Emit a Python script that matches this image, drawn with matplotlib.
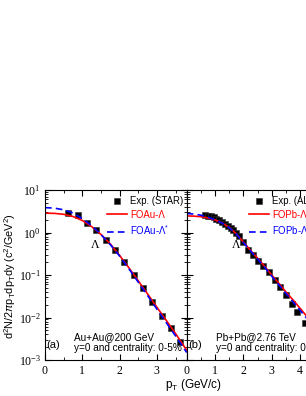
import numpy as np
import matplotlib.pyplot as plt
from matplotlib.ticker import MultipleLocator, LogLocator, NullFormatter

plt.rcParams['font.family'] = 'Liberation Sans'
plt.rcParams['mathtext.fontset'] = 'custom'
plt.rcParams['mathtext.rm'] = 'Liberation Sans'
plt.rcParams['mathtext.it'] = 'Liberation Sans:italic'

# panel (a): Au+Au 200 GeV, STAR Lambda
star_pt = [0.625, 0.875, 1.125, 1.375, 1.625, 1.875, 2.125, 2.375, 2.625, 2.875, 3.125, 3.375, 3.625]
star_y = [2.83, 2.58, 1.64, 1.15, 0.667, 0.39, 0.206, 0.10, 0.049, 0.0236, 0.011, 0.0057, 0.0027]

fo_au_pt = [0, 0.25, 0.5, 0.75, 1.0, 1.25, 1.5, 1.75, 2.0, 2.25, 2.5, 2.75, 3.0, 3.25, 3.5, 3.8]
fo_au_lam = [2.85, 2.82, 2.68, 2.38, 1.92, 1.38, 0.90, 0.54, 0.29, 0.148, 0.073, 0.036, 0.0175, 0.0086, 0.0042, 0.0017]
fo_au_star = [3.85, 3.75, 3.42, 2.88, 2.12, 1.45, 0.90, 0.52, 0.28, 0.14, 0.068, 0.033, 0.0158, 0.0076, 0.0037, 0.0015]

# panel (b): Pb+Pb 2.76 TeV, ALICE Lambda
alice_pt = [0.65, 0.75, 0.85, 0.95, 1.05, 1.15, 1.25, 1.35, 1.45, 1.55, 1.65, 1.75, 1.85, 2.0,
            2.15, 2.33, 2.5, 2.7, 2.9, 3.1, 3.3, 3.5, 3.7, 3.9, 4.18]
alice_y = [2.55, 2.48, 2.38, 2.26, 2.12, 1.96, 1.80, 1.62, 1.45, 1.28, 1.12, 0.97, 0.82, 0.60,
           0.38, 0.29, 0.215, 0.163, 0.117, 0.078, 0.053, 0.033, 0.0205, 0.0135, 0.0075]

fo_pb_pt = [0, 0.25, 0.5, 0.75, 1.0, 1.25, 1.5, 1.75, 2.0, 2.25, 2.5, 2.75, 3.0, 3.25, 3.5, 3.75, 4.0, 4.25, 4.5, 5.0]
fo_pb_lam = [2.45, 2.43, 2.35, 2.2, 1.98, 1.68, 1.32, 0.93, 0.60, 0.38, 0.25, 0.16, 0.10, 0.064, 0.040, 0.026,
             0.0165, 0.0104, 0.0066, 0.0026]
fo_pb_star = [2.8, 2.72, 2.55, 2.3, 2.0, 1.66, 1.30, 0.92, 0.58, 0.37, 0.24, 0.152, 0.094, 0.059, 0.037, 0.0235,
              0.0148, 0.0093, 0.0058, 0.0022]

panels = [
    dict(pt=star_pt, y=star_y, fpt=fo_au_pt, lam=fo_au_lam, lstar=fo_au_star, xmax=3.8,
         labels=['Exp. (STAR)', 'FOAu-Λ', 'FOAu-Λ$^{*}$'], tag='(a)', sys='Au+Au@200 GeV', lx=1.34),
    dict(pt=alice_pt, y=alice_y, fpt=fo_pb_pt, lam=fo_pb_lam, lstar=fo_pb_star, xmax=5.0,
         labels=['Exp. (ALICE)', 'FOPb-Λ', 'FOPb-Λ$^{*}$'], tag='(b)', sys='Pb+Pb@2.76 TeV', lx=1.75),
]

fig = plt.figure(figsize=(3.06, 3.96), dpi=100)
W, H = 306.0, 396.0
aw = 141.7 / W
lefts = [45 / W, 186.7 / W]
bot = 1 - 360 / H
ah = 170 / H

for k, p in enumerate(panels):
    ax = fig.add_axes([lefts[k], bot, aw, ah])
    h1, = ax.plot(p['pt'], p['y'], 's', color='k', ms=3.7, mec='#333333', mew=0.4)
    h2, = ax.plot(p['fpt'], p['lam'], '-', color='#ff0000', lw=1.2)
    h3, = ax.plot(p['fpt'], p['lstar'], '--', color='#0000ff', lw=1.2, dashes=(4, 2.5))
    ax.set_yscale('log')
    ax.set_xlim(0, p['xmax'])
    ax.set_ylim(1e-3, 10)
    ax.xaxis.set_major_locator(MultipleLocator(1))
    ax.xaxis.set_minor_locator(MultipleLocator(0.5))
    ax.yaxis.set_major_locator(LogLocator(base=10, numticks=10))
    ax.yaxis.set_minor_locator(LogLocator(base=10, subs=np.arange(2, 10), numticks=20))
    ax.yaxis.set_minor_formatter(NullFormatter())
    ax.tick_params(which='both', direction='in', top=True, right=True, labelsize=8.5)
    ax.tick_params(axis='y', pad=3)
    ax.tick_params(which='major', length=4, width=0.8)
    ax.tick_params(which='minor', length=2, width=0.6)
    for lab in ax.get_xticklabels() + ax.get_yticklabels():
        lab.set_fontfamily('Liberation Serif')
    if k == 1:
        ax.tick_params(axis='y', labelleft=False)
    for s in ax.spines.values():
        s.set_linewidth(0.8)

    leg = ax.legend([h1, h2, h3], p['labels'], loc='upper left', bbox_to_anchor=(0.437, 0.962),
                    frameon=False, fontsize=6.9, handlelength=2.1, handletextpad=0.35,
                    labelspacing=0.35, borderaxespad=0, borderpad=0)
    for t, c in zip(leg.get_texts(), ['k', '#ff0000', '#0000ff']):
        t.set_color(c)

    ax.text(p['lx'], 0.5, 'Λ', family='Liberation Serif', fontsize=8.5, ha='center', va='center')
    ax.text(0.205, 0.137, p['sys'], transform=ax.transAxes, fontsize=7.2, va='center')
    ax.text(0.205, 0.069, 'y=0 and centrality: 0-5%', transform=ax.transAxes, fontsize=7.2, va='center')
    ax.text(0.008, 0.088, p['tag'], transform=ax.transAxes, fontsize=8, va='center')

fig.text(10.5 / W, 1 - 276 / H, r'd$^2$N/2$\pi$p$_\mathrm{T}$dp$_\mathrm{T}$dy (c$^2$/GeV$^2$)',
         rotation=90, ha='center', va='center', fontsize=7.8)
fig.text(194 / W, 1 - 385 / H, r'p$_\mathrm{T}$ (GeV/c)', ha='center', va='center', fontsize=8.5)

fig.savefig('out.png', dpi=100)
